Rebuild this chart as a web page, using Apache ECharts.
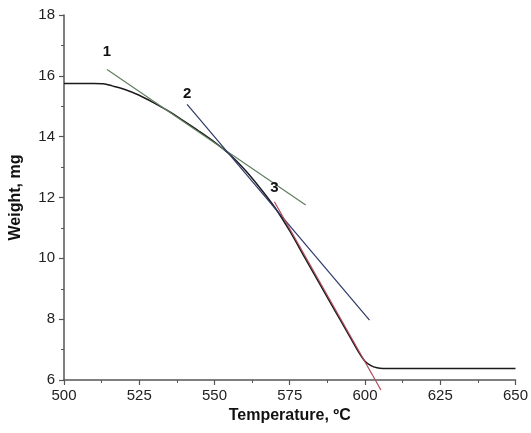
<!DOCTYPE html>
<html><head><meta charset="utf-8">
<script src="https://cdn.jsdelivr.net/npm/echarts@6/dist/echarts.min.js"></script>
<style>html,body{margin:0;padding:0;background:#fff}#c{width:531px;height:433px}</style>
</head><body><div id="c"></div>
<script>
const temps = [500,505,510,513,516,520,525,530,535,540,545,550,555,560,565,570,575,580,585,590,595,598,600,602,604,606,650];
const weights = [15.75,15.75,15.75,15.74,15.67,15.56,15.36,15.1,14.82,14.5,14.17,13.82,13.42,12.92,12.33,11.68,10.9,10.02,9.15,8.28,7.42,6.9,6.62,6.47,6.4,6.38,6.38];
const tangent1 = [[514.3,16.21],[580.3,11.75]];
const tangent2 = [[540.9,15.06],[601.5,7.97]];
const tangent3 = [[569.9,11.86],[605.3,5.67]];
const tangentLabels = ['1','2','3'];
const xTicks = [500,525,550,575,600,625,650];
const yTicks = [6,8,10,12,14,16,18];

const chart = echarts.init(document.getElementById('c'));
const axisCol = '#555';
const tickFont = "'Liberation Sans Narrow', 'Arial Narrow', Arial, sans-serif";
function tline(data, color, label, offY) {
  return {
    type:'line', data:data, symbol:'none', silent:true, clip:false,
    lineStyle:{color:color, width:1.2},
    label:{show:false},
    markPoint:{
      symbol:'circle', symbolSize:0,
      data:[{coord:data[0], value:label}],
      label:{show:true, formatter:label, color:'#111', fontFamily:'Arial', fontWeight:'bold', fontSize:15, offset:[0,offY]}
    }
  };
}
chart.setOption({
  animation:false,
  grid:{left:62.5, right:12.5, top:15, bottom:53},
  xAxis:{type:'value', min:500, max:650, interval:25,
    name:'Temperature, ºC', nameLocation:'middle', nameGap:28,
    nameTextStyle:{fontFamily:'Arial', fontWeight:'bold', fontSize:16, color:'#111'},
    axisLine:{lineStyle:{color:axisCol, width:1.5}},
    axisTick:{inside:false, length:5, lineStyle:{color:axisCol, width:1.2}},
    minorTick:{show:true, splitNumber:2, length:3, lineStyle:{color:axisCol}},
    splitLine:{show:false},
    axisLabel:{fontFamily:tickFont, fontSize:15, color:'#222', margin:8,
      formatter:v=>xTicks.includes(v)?String(v):''}
  },
  yAxis:{type:'value', min:6, max:18, interval:2,
    name:'Weight, mg', nameLocation:'middle', nameGap:40,
    nameTextStyle:{fontFamily:'Arial', fontWeight:'bold', fontSize:16, color:'#111'},
    axisLine:{show:true, lineStyle:{color:axisCol, width:1.5}},
    axisTick:{show:true, inside:false, length:5, lineStyle:{color:axisCol, width:1.2}},
    minorTick:{show:true, splitNumber:2, length:3, lineStyle:{color:axisCol}},
    splitLine:{show:false},
    axisLabel:{fontFamily:tickFont, fontSize:15, color:'#222', margin:9,
      formatter:v=>yTicks.includes(v)?String(v):''}
  },
  series:[
    {type:'line', data:temps.map((t,i)=>[t,weights[i]]), symbol:'none', smooth:0.3,
      lineStyle:{color:'#1a1a1a', width:1.5}},
    tline(tangent1, '#5f7f60', tangentLabels[0], -18),
    tline(tangent2, '#2c3868', tangentLabels[1], -11),
    tline(tangent3, '#b04a5a', tangentLabels[2], -14)
  ]
});
</script></body></html>
